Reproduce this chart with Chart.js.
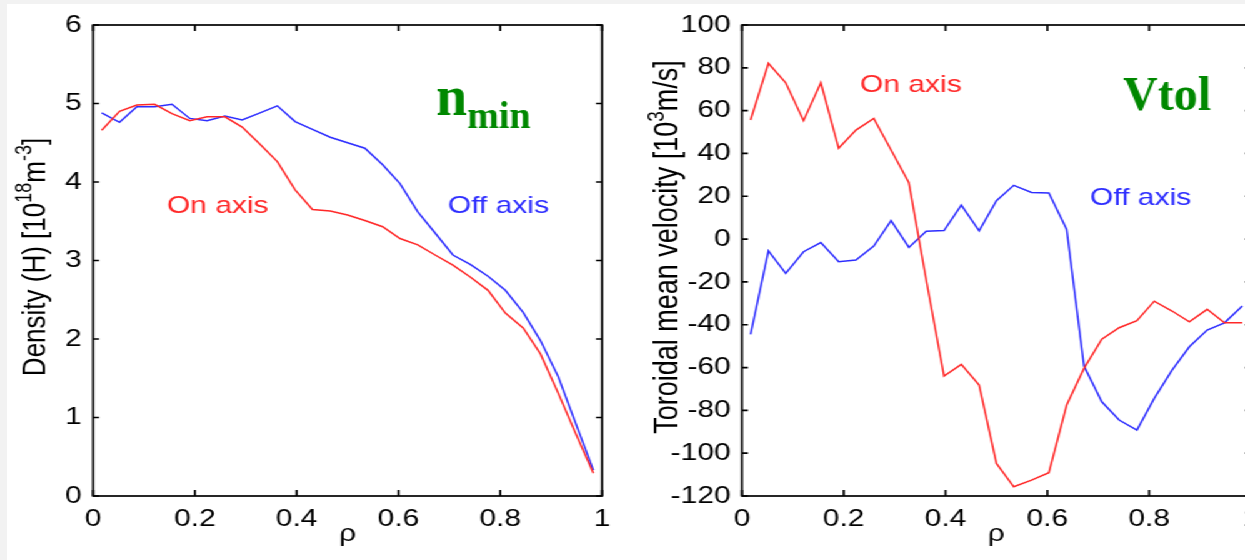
<!DOCTYPE html>
<html>
<head>
<meta charset="utf-8">
<script src="https://cdn.jsdelivr.net/npm/chart.js@4"></script>
<style>
  html, body { margin: 0; padding: 0; width: 1245px; height: 560px; overflow: hidden; background: #f2f2f2; }
  #panel { position: absolute; left: 7px; top: 4px; width: 1238px; height: 556px; background: #fff; }
  /* the source figure is stretched sideways, so the charts are drawn narrow and stretched */
  #stretch { position: absolute; left: 0; top: 0; width: 1030px; height: 560px; transform: scaleX(1.25); transform-origin: 0 0; }
  .box { position: absolute; top: 0; height: 560px; }
  #leftBox { left: 0; width: 500px; }
  #rightBox { left: 500px; width: 530px; }
</style>
</head>
<body>
<div id="panel"></div>
<div id="stretch">
  <div class="box" id="leftBox"><canvas id="densityChart"></canvas></div>
  <div class="box" id="rightBox"><canvas id="velocityChart"></canvas></div>
</div>
<script>
// normalised radius ρ
const rho = [0.017, 0.052, 0.086, 0.121, 0.155, 0.190, 0.224, 0.259, 0.293, 0.328,
             0.362, 0.397, 0.431, 0.466, 0.500, 0.534, 0.569, 0.603, 0.638, 0.672,
             0.707, 0.741, 0.776, 0.810, 0.845, 0.879, 0.914, 0.948, 0.983];

// density (H) [10^18 m^-3]
const densityOn  = [4.66, 4.90, 4.98, 4.99, 4.87, 4.78, 4.83, 4.83, 4.70, 4.48,
                    4.26, 3.90, 3.65, 3.63, 3.58, 3.51, 3.43, 3.28, 3.20, 3.07,
                    2.94, 2.79, 2.62, 2.33, 2.14, 1.81, 1.31, 0.80, 0.29];
const densityOff = [4.88, 4.76, 4.96, 4.96, 4.99, 4.81, 4.78, 4.84, 4.79, 4.88,
                    4.97, 4.77, 4.67, 4.57, 4.50, 4.43, 4.22, 3.98, 3.62, 3.35,
                    3.07, 2.95, 2.80, 2.62, 2.34, 1.98, 1.52, 0.93, 0.33];

// toroidal mean velocity [10^3 m/s]
const velocityOn  = [55.6, 82.1, 73.0, 55.3, 73.0, 42.4, 50.9, 56.4, 41.6, 26.3,
                     -19, -64, -58.5, -68.2, -104.8, -115.7, -112.6, -109.1, -77.5, -60.4,
                     -46.8, -41.4, -38.1, -29.0, -33.6, -38.6, -32.8, -39.1, -39.1];
const velocityOff = [-44.5, -5.5, -16.0, -5.9, -1.6, -10.6, -9.8, -3.3, 8.6, -3.9,
                     3.7, 4.0, 15.9, 3.9, 17.9, 25.1, 21.8, 21.5, 4.5, -59.3,
                     -76.0, -84.5, -89.2, -74.4, -61.2, -50.3, -42.5, -39.1, -31.3];

// tick labels
const rhoTicks = [0, 0.2, 0.4, 0.6, 0.8, 1];
const densityTicks = [0, 1, 2, 3, 4, 5, 6];
const velocityTicks = [-120, -100, -80, -60, -40, -20, 0, 20, 40, 60, 80, 100];

const STRETCH = 1.25;
const RED = 'rgb(255, 40, 40)';
const BLUE = 'rgb(45, 45, 255)';
const GREEN = '#008800';
const SANS = '"Liberation Sans", Arial, sans-serif';

// box, inward ticks, axis titles and in-plot notes
const frame = {
  id: 'frame',
  afterDraw(chart, args, o) {
    const { ctx, chartArea: a, scales: { x, y } } = chart;
    ctx.save();
    ctx.strokeStyle = '#000';
    ctx.lineWidth = 1.7;
    ctx.strokeRect(a.left, a.top, a.right - a.left, a.bottom - a.top);
    ctx.beginPath();
    x.ticks.forEach(t => {
      const px = x.getPixelForValue(t.value);
      ctx.moveTo(px, a.bottom); ctx.lineTo(px, a.bottom - 6);
      ctx.moveTo(px, a.top); ctx.lineTo(px, a.top + 6);
    });
    y.ticks.forEach(t => {
      const py = y.getPixelForValue(t.value);
      ctx.moveTo(a.left, py); ctx.lineTo(a.left + 4.8, py);
      ctx.moveTo(a.right, py); ctx.lineTo(a.right - 4.8, py);
    });
    ctx.stroke();

    ctx.fillStyle = '#000';
    ctx.textBaseline = 'alphabetic';

    // x title
    ctx.font = '24px ' + SANS;
    ctx.textAlign = 'center';
    ctx.fillText('ρ', (a.left + a.right) / 2, a.bottom + 45);

    // rotated y title with superscripts
    ctx.textAlign = 'left';
    const big = o.titleSize + 'px ' + SANS;
    const small = Math.round(o.titleSize * 0.7) + 'px ' + SANS;
    let total = 0;
    o.yTitle.forEach(p => {
      ctx.font = p.sup ? small : big;
      p.w = ctx.measureText(p.t).width;
      total += p.w;
    });
    ctx.save();
    ctx.translate(o.yTitleX, o.yTitleY);
    ctx.rotate(-Math.PI / 2);
    let cx = -total / 2;
    o.yTitle.forEach(p => {
      ctx.font = p.sup ? small : big;
      ctx.fillText(p.t, cx, p.sup ? -o.titleSize * 0.42 : 0);
      cx += p.w;
    });
    ctx.restore();

    // series notes
    ctx.font = '24px ' + SANS;
    o.notes.forEach(n => {
      ctx.fillStyle = n.color;
      ctx.fillText(n.text, x.getPixelForValue(n.x), y.getPixelForValue(n.y));
    });

    // green tag, drawn unstretched
    ctx.save();
    ctx.translate(x.getPixelForValue(o.tag.x), y.getPixelForValue(o.tag.y));
    ctx.scale(1 / STRETCH, 1);
    ctx.fillStyle = GREEN;
    let tx = 0;
    o.tag.parts.forEach(p => {
      ctx.font = 'bold ' + p.size + 'px "Liberation Serif", "Times New Roman", serif';
      ctx.fillText(p.t, tx, p.dy);
      tx += ctx.measureText(p.t).width;
    });
    ctx.restore();
    ctx.restore();
  }
};

function toPoints(xs, ys) {
  return xs.map((v, i) => ({ x: v, y: ys[i] }));
}

function makeChart(id, series, yMin, yMax, yTicks, yWidth, rightPad, frameOpts) {
  return new Chart(document.getElementById(id), {
    type: 'line',
    data: {
      datasets: series.map(s => ({
        data: toPoints(rho, s.values),
        borderColor: s.color,
        borderWidth: 1.5,
        pointRadius: 0,
        tension: 0,
        fill: false
      }))
    },
    options: {
      responsive: true,
      maintainAspectRatio: false,
      animation: false,
      layout: { padding: { top: 25, right: rightPad, left: 0, bottom: 0 } },
      plugins: {
        legend: { display: false },
        tooltip: { enabled: false },
        frame: frameOpts
      },
      scales: {
        x: {
          type: 'linear',
          min: 0,
          max: 1,
          afterBuildTicks: s => { s.ticks = rhoTicks.map(v => ({ value: v })); },
          afterFit: s => { s.height = 64; },
          grid: { display: false, drawTicks: false },
          border: { display: false },
          ticks: {
            padding: 9,
            color: '#000',
            font: { family: SANS, size: 24 },
            maxRotation: 0,
            callback: v => String(v)
          }
        },
        y: {
          type: 'linear',
          min: yMin,
          max: yMax,
          afterBuildTicks: s => { s.ticks = yTicks.map(v => ({ value: v })); },
          afterFit: s => { s.width = yWidth; },
          grid: { display: false, drawTicks: false },
          border: { display: false },
          ticks: {
            padding: 9,
            color: '#000',
            font: { family: SANS, size: 24 },
            callback: v => String(v)
          }
        }
      }
    },
    plugins: [frame]
  });
}

makeChart('densityChart',
  [{ values: densityOn, color: RED }, { values: densityOff, color: BLUE }],
  0, 6, densityTicks, 74.4, 18.4,
  {
    yTitleX: 36, yTitleY: 257, titleSize: 26,
    yTitle: [{ t: 'Density (H) [10' }, { t: '18', sup: true }, { t: 'm' }, { t: '-3', sup: true }, { t: ']' }],
    notes: [
      { text: 'On axis', x: 0.145, y: 3.605, color: RED },
      { text: 'Off axis', x: 0.697, y: 3.605, color: BLUE }
    ],
    tag: { x: 0.674, y: 4.85, parts: [{ t: 'n', size: 56, dy: 0 }, { t: 'min', size: 38, dy: 13 }] }
  });

makeChart('velocityChart',
  [{ values: velocityOn, color: RED }, { values: velocityOff, color: BLUE }],
  -120, 100, velocityTicks, 93.6, 29.2,
  {
    yTitleX: 42.4, yTitleY: 247, titleSize: 27,
    yTitle: [{ t: 'Toroidal mean velocity [10' }, { t: '3', sup: true }, { t: 'm/s]' }],
    notes: [
      { text: 'On axis', x: 0.232, y: 68.7, color: RED },
      { text: 'Off axis', x: 0.684, y: 15.9, color: BLUE }
    ],
    tag: { x: 0.749, y: 60.3, parts: [{ t: 'Vtol', size: 48, dy: 0 }] }
  });
</script>
</body>
</html>
